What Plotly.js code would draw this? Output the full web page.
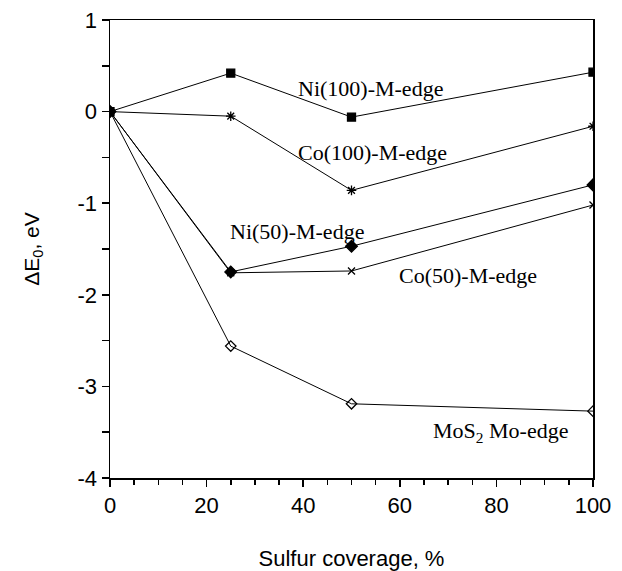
<!DOCTYPE html>
<html><head><meta charset="utf-8">
<script src="https://cdn.plot.ly/plotly-3.0.1.min.js"></script>
<style>html,body{margin:0;padding:0;background:#fff;}</style>
</head><body>
<div id="chart" style="width:622px;height:571px;"></div>
<script>
const coverage = [0, 25, 50, 100];
const ni100 = [0, 0.42, -0.06, 0.43];
const co100 = [0, -0.05, -0.86, -0.16];
const ni50 = [0, -1.75, -1.47, -0.80];
const co50 = [0, -1.76, -1.74, -1.02];
const mos2 = [0, -2.56, -3.19, -3.27];

const seriesNames = ['Ni(100)-M-edge', 'Co(100)-M-edge', 'Ni(50)-M-edge', 'Co(50)-M-edge', 'MoS<sub>2</sub> Mo-edge'];
const seriesValues = [ni100, co100, ni50, co50, mos2];
const symbols = ['square', 'asterisk-open', 'diamond', 'x-thin-open', 'diamond-open'];
const sizes = [8, 8, 9, 7, 8];
// label anchor positions (data coords)
const labelX = [38.5, 38.5, 24.5, 59.5, 66.5];
const labelY = [0.25, -0.45, -1.31, -1.79, -3.50];

const traces = seriesValues.map((v, i) => ({
  x: coverage, y: v, type: 'scatter', mode: 'lines+markers', name: seriesNames[i],
  line: {color: '#000', width: 1},
  marker: {symbol: symbols[i], size: sizes[i], color: '#000', line: {color: '#000', width: 1.3}},
  showlegend: false
}));

const annotations = seriesNames.map((t, i) => ({
  x: labelX[i], y: labelY[i], xref: 'x', yref: 'y', text: t, showarrow: false,
  xanchor: 'left', yanchor: 'middle',
  font: {family: 'Liberation Serif, Times New Roman, serif', size: 22, color: '#000'}
}));

const layout = {
  width: 622, height: 571,
  margin: {l: 110, r: 29, t: 20, b: 93},
  paper_bgcolor: '#fff', plot_bgcolor: '#fff',
  font: {family: 'Liberation Sans, Arial, sans-serif', size: 22, color: '#000'},
  xaxis: {
    range: [0, 100], tickvals: [0, 20, 40, 60, 80, 100], ticktext: ['0','20','40','60','80','100'],
    ticks: 'outside', ticklen: 7, tickwidth: 1.5, tickcolor: '#000',
    minor: {dtick: 5, ticks: 'outside', ticklen: 5, tickwidth: 1.5, tickcolor: '#000'},
    showline: true, linecolor: '#000', linewidth: 1.5, mirror: true,
    showgrid: false, zeroline: false,
    title: {text: 'Sulfur coverage, %', font: {size: 22}, standoff: 36}
  },
  yaxis: {
    range: [-4, 1], tickvals: [-4, -3, -2, -1, 0, 1], ticktext: ['-4','-3','-2','-1','0','1'],
    ticks: 'outside', ticklen: 7, tickwidth: 1.5, tickcolor: '#000',
    minor: {dtick: 0.5, ticks: 'outside', ticklen: 7, tickwidth: 1.5, tickcolor: '#000'},
    showline: true, linecolor: '#000', linewidth: 1.5, mirror: true,
    showgrid: false, zeroline: false,
    title: {text: 'ΔE<sub>0</sub>, eV', font: {size: 21}, standoff: 32}
  },
  annotations: annotations
};

Plotly.newPlot('chart', traces, layout, {displayModeBar: false, staticPlot: true});
</script>
</body></html>
